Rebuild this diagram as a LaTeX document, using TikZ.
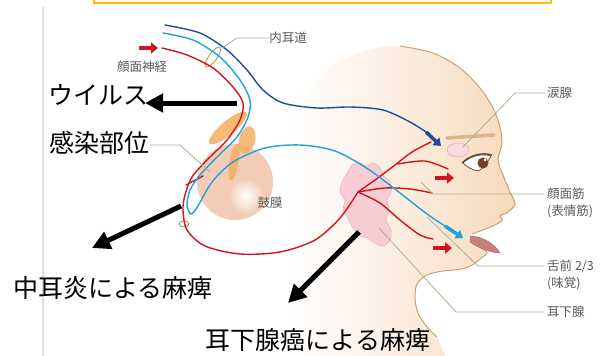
\documentclass[tikz,border=0pt]{standalone}
\usepackage{fontspec}
\setmainfont{Noto Sans CJK JP}
\usepackage{tikz}
\usetikzlibrary{arrows.meta,positioning}

\definecolor{nervered}{HTML}{D3141E}
\definecolor{nerveblue}{HTML}{1D4E9B}
\definecolor{nervecyan}{HTML}{1EA3DA}
\definecolor{leader}{HTML}{A8B391}
\definecolor{skin}{HTML}{F7DABD}
\definecolor{skinline}{HTML}{C9A274}
\definecolor{browc}{HTML}{D9B687}
\definecolor{gland}{HTML}{F5CDD3}
\definecolor{glandline}{HTML}{E6A3AE}
\definecolor{bonec}{HTML}{F4AE62}
\definecolor{drum}{HTML}{F2CCB6}
\definecolor{ringc}{HTML}{B9A270}
\definecolor{labelgray}{HTML}{5A5A5A}
\definecolor{boxyellow}{HTML}{F7BE1C}
\definecolor{boxfill}{HTML}{FFFBE8}
\definecolor{eyeline}{HTML}{6B4A2E}
\definecolor{iris}{HTML}{6E4424}
\definecolor{tonguec}{HTML}{C7807A}

\tikzset{
  nerve/.style={line width=1.4pt, line cap=round},
  leaderline/.style={draw=leader, line width=0.8pt},
  lbl/.style={text=labelgray, font=\fontsize{12.5}{15}\selectfont, inner sep=0pt},
  bigtext/.style={font=\fontsize{25}{30}\selectfont, inner sep=0pt},
  pointer/.style={line width=5pt, -{Triangle[length=18pt,width=18pt]}},
  redtip/.style={draw=nervered, line width=3.5pt, -{Triangle[length=7pt,width=11pt]}},
  bluetip/.style={line width=3.5pt, -{Triangle[length=7pt,width=10pt]}},
  bone/.style={fill=bonec, opacity=0.85},
}

\begin{document}
\begin{tikzpicture}[x=1pt,y=-1pt]

% frame
\useasboundingbox (0,0) rectangle (616,356);
\fill[white] (0,0) rectangle (616,356);
\draw[boxyellow, fill=boxfill, line width=2.5pt] (94,-10) rectangle (551,3);
\draw[gray!25, line width=1.5pt] (43,7) -- (43,356);

% head
\shade[left color=white, right color=skin] plot[smooth] coordinates {(400,46) (433,53) (460,68) (480,88) (493,108) (500,127) (502,143) (498,160) (503,175) (510,192) (515,204) (508,212) (500,216) (502,221) (488,228) (472,234)} -- (466,238) -- plot[smooth] coordinates {(472,242) (487,252) (481,258) (474,264) (462,269) (443,271) (427,275) (417,284) (415,298) (418,313) (427,327) (437,337)} -- (445,356) -- (292,356) -- (292,130) .. controls (300,75) and (350,46) .. (400,46) -- cycle;
\draw[skinline, line width=1pt] plot[smooth] coordinates {(400,46) (433,53) (460,68) (480,88) (493,108) (500,127) (502,143) (498,160) (503,175) (510,192) (515,204) (508,212) (500,216) (502,221) (488,228) (472,234)};
\draw[skinline, line width=1pt] plot[smooth] coordinates {(472,242) (487,252) (481,258) (474,264) (462,269) (443,271) (427,275) (417,284) (415,298) (418,313) (427,327) (437,337)};

% face
\draw[browc, line width=3.5pt, line cap=round] (447,138) -- (494,135);
\draw[eyeline, fill=white, line width=0.8pt] (463,163) .. controls (470,156) and (482,153) .. (491,156) .. controls (487,163) and (483,169) .. (478,171) .. controls (472,170) and (467,167) .. (463,163) -- cycle;
\fill[iris] (483,163) circle (5.5);
\fill[white] (485,160) circle (1.5);
\draw[eyeline, line width=1.4pt] (462,163) .. controls (470,155) and (482,152) .. (492,155);
\draw[tonguec!80!black, fill=tonguec] (470,236) .. controls (482,236) and (495,244) .. (500,253) .. controls (492,253) and (478,248) .. (470,242) -- cycle;

% glands
\draw[glandline, fill=gland!70!white] (458,150) ellipse [x radius=11, y radius=7];
\draw[glandline, fill=gland] plot[smooth cycle] coordinates {(348,172) (352,165) (360,163) (367,166) (373,163) (380,168) (384,176) (390,182) (391,192) (387,200) (389,210) (386,220) (391,230) (390,240) (383,246) (375,243) (368,238) (360,236) (353,228) (348,218) (343,210) (345,200) (340,192) (342,182)};

% ear
\fill[drum] (235,182) circle (38);
\shade[inner color=white, outer color=drum] (246,196) circle (18);
\fill[bone, rotate around={40:(228,128)}] (228,128) ellipse [x radius=24, y radius=7];
\fill[bone, rotate around={75:(247,140)}] (247,140) ellipse [x radius=14, y radius=8];
\fill[bone, rotate around={80:(234,162)}] (234,162) ellipse [x radius=19, y radius=4.5];
\draw[ringc, line width=1pt, rotate around={54:(213,57)}] (213,57) ellipse [x radius=12, y radius=4];
\draw[ringc, line width=1pt] (184,224) ellipse [x radius=5, y radius=3];

% nerves
\draw[nerve, nerveblue] plot[smooth] coordinates {(165,25) (200,33) (227,50) (247,70) (263,90) (283,103) (317,108) (350,107) (383,110) (410,122) (426,132)};
\draw[nerve, nervered] plot[smooth] coordinates {(162,48) (187,55) (213,68) (233,87) (243,103) (240,120) (227,140) (207,160) (192,177) (185,195) (183,210) (187,230) (205,246) (240,254) (280,252) (315,240) (340,218) (358,192)};
\draw[nerve, nervered] plot[smooth] coordinates {(358,192) (375,180) (395,165) (412,152) (431,142)};
\draw[nerve, nervered] plot[smooth] coordinates {(398,164) (425,161) (448,169)};
\draw[nerve, nervered] plot[smooth] coordinates {(358,192) (385,188) (410,189) (432,193)};
\draw[nerve, nervered] plot[smooth] coordinates {(358,192) (380,203) (400,220) (420,235) (433,239)};
\draw[nerve, nervered] (186,185) -- (203,176);
\draw[nerve, nervecyan] plot[smooth] coordinates {(163,33) (193,40) (220,57) (240,80) (250,100) (248,117) (237,137) (217,157) (200,175) (190,190) (187,205) (191,214) (198,206) (212,182) (233,162) (265,148) (300,145) (335,151) (368,169) (400,193) (427,214) (445,226)};

% small arrows
\draw[bluetip, nerveblue] (426,132) -- (441,146);
\draw[bluetip, nervecyan] (445,226) -- (463,238);
\draw[redtip] (139,48) -- (158,48);
\draw[redtip] (435,178) -- (454,178);
\draw[redtip] (433,248) -- (452,248);

% labels
\node[lbl] (meatus) at (288,38) {内耳道};
\node[lbl] (facial) at (142,67) {顔面神経};
\node[lbl] (drumlbl) at (270,203) {鼓膜};
\node[lbl, anchor=west] (lacri) at (547,93) {涙腺};
\node[lbl, anchor=west] (musc) at (547,194) {顔面筋};
\node[lbl, below=17pt of musc.west, anchor=west] (musc2) {(表情筋)};
\node[lbl, anchor=west] (tongue) at (547,266) {舌前 2/3};
\node[lbl, below=17pt of tongue.west, anchor=west] (taste) {(味覚)};
\node[lbl, anchor=west] (parot) at (547,312) {耳下腺};

\node[bigtext] (virus) at (98,95) {ウイルス};
\node[bigtext] (site) at (99,143) {感染部位};
\node[bigtext] (otitis) at (113,288) {中耳炎による麻痺};
\node[bigtext] (cancer) at (318,340) {耳下腺癌による麻痺};

% leaders
\draw[leaderline] (meatus.west) -- (237,38) -- (222,48);
\draw[leaderline] (site.east) ++(1,2) -- (180,145) -- (210,172);
\draw[leaderline] (lacri.west) ++(-2,0) -- (515,93) -- (463,147);
\draw[leaderline] (musc.west) ++(-3,0) -- (433,194) -- (421,182);
\draw[leaderline] (tongue.west) ++(-3,0) -- (478,266) -- (427,217);
\draw[leaderline] (parot.west) ++(-3,0) -- (456,312) -- (379,228);

% pointers
\coordinate (virtail) at (237,103);
\coordinate (virtip) at (145,103);
\coordinate (mettail) at (181,206);
\coordinate (mettip) at (92,248);
\coordinate (partail) at (359,232);
\coordinate (partip) at (288,303);
\draw[pointer] (virtail) -- (virtip);
\draw[pointer] (mettail) -- (mettip);
\draw[pointer] (partail) -- (partip);

\end{tikzpicture}
\end{document}
